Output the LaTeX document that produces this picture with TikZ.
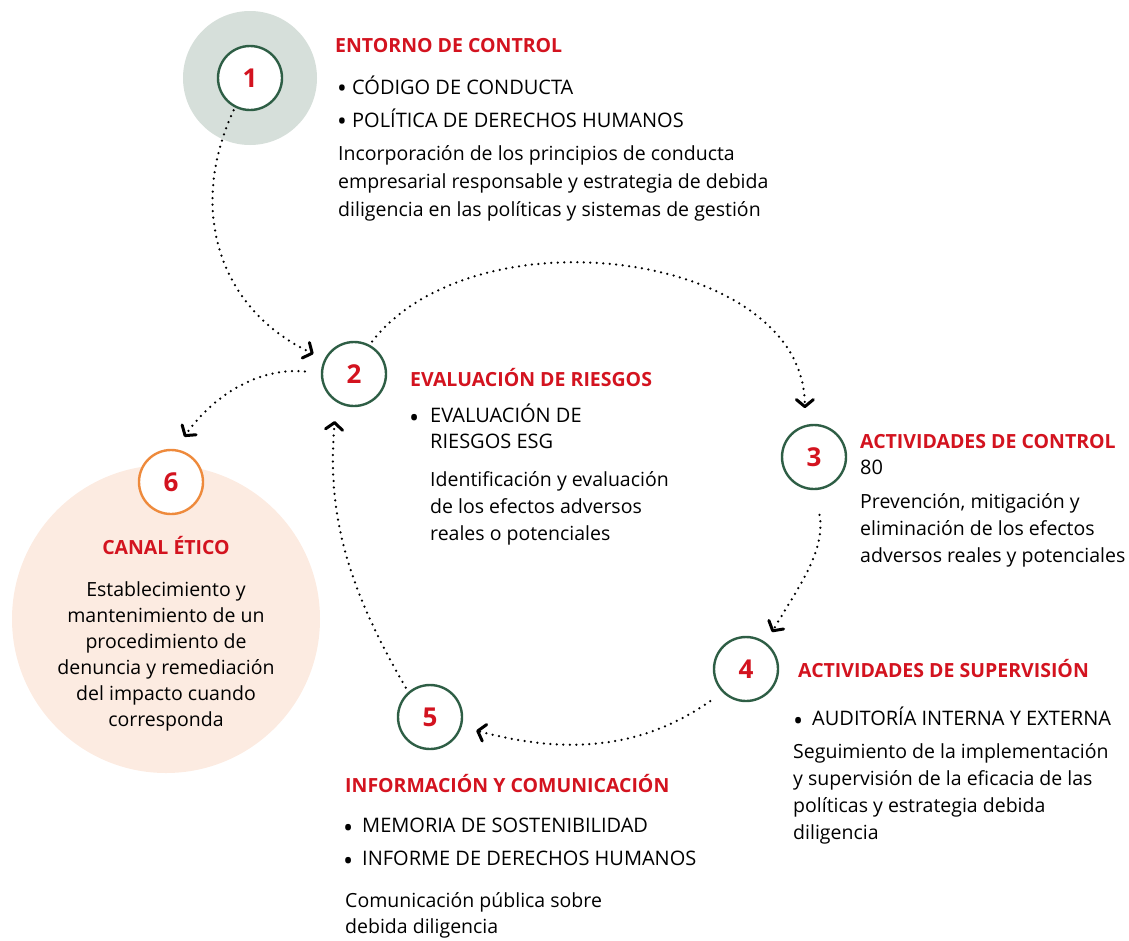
\documentclass[tikz,border=0pt]{standalone}
\usepackage{fontspec}
\setmainfont{Open Sans}
\usetikzlibrary{arrows.meta,positioning}
\definecolor{rojo}{HTML}{D3131F}
\definecolor{verde}{HTML}{2E5E45}
\definecolor{naranja}{HTML}{EE8A3C}
\definecolor{gris}{HTML}{D6DFDA}
\definecolor{melocoton}{HTML}{FCEBE1}
\newcommand{\pto}[1]{\makebox[#1][l]{\raisebox{-0.55ex}{\fontsize{27}{26}\selectfont•}}}
\newcommand{\ptoalto}[1]{\makebox[#1][l]{\raisebox{-0.3ex}{\fontsize{26}{26}\selectfont•}}}
\tikzset{
  paso/.style={circle, draw=verde, line width=2.4pt, fill=white, minimum size=64pt,
    inner sep=0pt, text=rojo, font=\fontsize{26}{26}\selectfont\bfseries},
  titulo/.style={anchor=base west, inner sep=0pt, text=rojo, font=\fontsize{19.5}{22}\selectfont\bfseries},
  vineta/.style={anchor=base west, inner sep=0pt, align=left, font=\fontsize{20}{26}\selectfont},
  texto/.style={anchor=base west, inner sep=0pt, align=left, font=\fontsize{19.5}{27}\selectfont},
  flecha/.style={line width=2.5pt, line cap=round, dash pattern=on 0pt off 6.5pt,
    -{Straight Barb[length=7pt,width=17pt,line width=3pt,round]}}
}
\begin{document}
\begin{tikzpicture}[x=1pt,y=-1pt]
  \useasboundingbox (0,0) rectangle (1129,940);
  % fondos
  \fill[gris] (250,78) circle[radius=67pt];
  \fill[melocoton] (166,619) circle[radius=154pt];

  % pasos
  \node[paso] (c1) at (250,78) {1};
  \node[paso] (c2) at (354,374) {2};
  \node[paso] (c3) at (814,457) {3};
  \node[paso] (c4) at (746,669) {4};
  \node[paso] (c5) at (430,717) {5};
  \node[paso, draw=naranja] (c6) at (171,482) {6};

  % flechas
  \draw[flecha, shorten <=3pt, shorten >=12pt] (c1.243) to[out=245,in=155,looseness=1.1] (c2.153);
  \draw[flecha, shorten <=4pt, shorten >=17pt] (c2.62) to[out=52,in=90] (c3.106);
  \draw[flecha, shorten <=25pt, shorten >=12pt] (c3.272) to[out=-80,in=60] (c4.53);
  \draw[flecha, shorten <=15pt, shorten >=15pt] (c4.225) to[out=215,in=-15] (c5.-17);
  \draw[flecha, shorten <=5pt, shorten >=19pt] (c5.131) to[out=120,in=265] (c2.238);
  \draw[flecha, shorten <=16pt, shorten >=15pt] (c2.178) to[out=175,in=55] (c6.82);

  % textos: el ancla base cae en la ultima linea
  % 1 entorno de control
  \node[titulo] (t1) at (335,52) {ENTORNO DE CONTROL};
  \node[vineta] (v1a) at (337,94) {\ptoalto{15pt}CÓDIGO DE CONDUCTA};
  \node[vineta] (v1b) at (337,127) {\ptoalto{15pt}POLÍTICA DE DERECHOS HUMANOS};
  \node[texto, font=\fontsize{19.5}{28}\selectfont] (p1) at (338,216) {Incorporación de los principios de conducta\\
    empresarial responsable y estrategia de debida\\
    diligencia en las políticas y sistemas de gestión};

  % 2 evaluacion de riesgos
  \node[titulo] (t2) at (410,386) {EVALUACIÓN DE RIESGOS};
  \node[vineta] (v2) at (409,448) {\pto{21pt}EVALUACIÓN DE\\
    \hspace{21pt}RIESGOS ESG};
  \node[texto] (p2) at (430,540) {Identificación y evaluación\\
    de los efectos adversos\\
    reales o potenciales};

  % 3 actividades de control
  \node[titulo] (t3) at (860,448) {ACTIVIDADES DE CONTROL};
  \node[vineta] (n3) at (860,474) {80};
  \node[texto] (p3) at (860,562) {Prevención, mitigación y\\
    eliminación de los efectos\\
    adversos reales y potenciales};

  % 4 actividades de supervision
  \node[titulo] (t4) at (798,677) {ACTIVIDADES DE SUPERVISIÓN};
  \node[vineta] (v4) at (793,725) {\pto{19pt}AUDITORÍA INTERNA Y EXTERNA};
  \node[texto] (p4) at (793,839) {Seguimiento de la implementación\\
    y supervisión de la eficacia de las\\
    políticas y estrategia debida\\
    diligencia};

  % 5 informacion y comunicacion
  \node[titulo] (t5) at (345,792) {INFORMACIÓN Y COMUNICACIÓN};
  \node[vineta] (v5a) at (343,832) {\pto{19pt}MEMORIA DE SOSTENIBILIDAD};
  \node[vineta] (v5b) at (343,865) {\pto{19pt}INFORME DE DERECHOS HUMANOS};
  \node[texto, font=\fontsize{19.5}{26}\selectfont] (p5) at (345,933) {Comunicación pública sobre\\
    debida diligencia};

  % 6 canal etico
  \node[titulo, anchor=base] (t6) at (166,554) {CANAL ÉTICO};
  \node[texto, anchor=base, align=center, font=\fontsize{19.5}{26}\selectfont] (p6) at (166,726) {Establecimiento y\\
    mantenimiento de un\\
    procedimiento de\\
    denuncia y remediación\\
    del impacto cuando\\
    corresponda};
\end{tikzpicture}
\end{document}
